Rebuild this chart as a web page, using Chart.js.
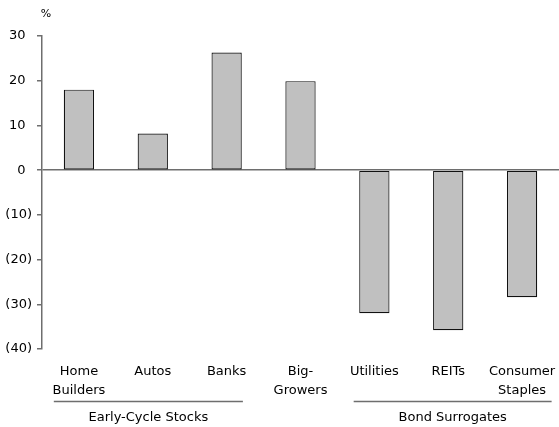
<!DOCTYPE html>
<html lang="en">
<head>
  <meta charset="UTF-8" />
  <title>Sector returns</title>
  <script src="https://cdn.jsdelivr.net/npm/chart.js"></script>
  <style>
    * { margin: 0; padding: 0; box-sizing: border-box; }
    body { background: #fff; width: 559px; height: 427px; overflow: hidden; }
    canvas { display: block; }
  </style>
</head>
<body>
  <canvas id="sectorChart" width="559" height="427"></canvas>
  <script>
    // data
    const categories = [['Home', 'Builders'], 'Autos', 'Banks', ['Big-', 'Growers'], 'Utilities', 'REITs', ['Consumer', 'Staples']];
    const returns = [18, 8.2, 26.3, 19.9, -32, -35.8, -28.4];
    const yTicks = [30, 20, 10, 0, -10, -20, -30, -40];
    const groupNames = ['Early-Cycle Stocks', 'Bond Surrogates'];
    const groupFirst = [0, 4];
    const groupLast = [2, 6];

    const FONT = "'DejaVu Sans', sans-serif";
    const AXIS = '#6e6e6e';

    // bracket lines + group names under the category labels, and the % unit
    const groupLabels = {
      id: 'groupLabels',
      afterDraw(chart) {
        const ctx = chart.ctx;
        const x = chart.scales.x;
        const cw = x.width / categories.length;
        const ends = [[-0.34, 0.22], [-0.28, 0.40]];
        ctx.save();
        groupNames.forEach((name, i) => {
          const x0 = x.getPixelForValue(groupFirst[i]) + ends[i][0] * cw;
          const x1 = x.getPixelForValue(groupLast[i]) + ends[i][1] * cw;
          ctx.strokeStyle = AXIS;
          ctx.lineWidth = 1.5;
          ctx.beginPath();
          ctx.moveTo(x0, 401.5);
          ctx.lineTo(x1, 401.5);
          ctx.stroke();
          ctx.fillStyle = '#000';
          ctx.font = '13px ' + FONT;
          ctx.textAlign = 'center';
          ctx.textBaseline = 'middle';
          ctx.fillText(name, (x0 + x1) / 2, 418);
        });
        ctx.font = '11px ' + FONT;
        ctx.textAlign = 'center';
        ctx.textBaseline = 'middle';
        ctx.fillText('%', chart.chartArea.left + 4, 14);
        ctx.restore();
      }
    };

    new Chart(document.getElementById('sectorChart').getContext('2d'), {
      type: 'bar',
      data: {
        labels: categories,
        datasets: [{
          data: returns,
          backgroundColor: '#c0c0c0',
          borderColor: '#111',
          borderWidth: 1.2,
          borderSkipped: false,
          barPercentage: 0.41,
          categoryPercentage: 1
        }]
      },
      options: {
        responsive: false,
        animation: false,
        layout: { padding: { top: 36, left: 0, right: 0, bottom: 0 } },
        plugins: { legend: { display: false }, tooltip: { enabled: false } },
        scales: {
          x: {
            grid: { display: false, drawTicks: false },
            border: { display: false },
            ticks: { color: '#000', font: { family: FONT, size: 13, lineHeight: 1.45 }, padding: 13, autoSkip: false, maxRotation: 0 },
            afterFit(scale) {
              scale.height = 78;
              scale.paddingLeft = 0;
              scale.paddingRight = 0;
            }
          },
          y: {
            min: -40,
            max: 30,
            z: 1,
            afterBuildTicks(scale) { scale.ticks = yTicks.map(v => ({ value: v })); },
            border: { display: true, color: AXIS, width: 1.5 },
            grid: {
              drawOnChartArea: true,
              color: c => (c.tick && c.tick.value === 0 ? AXIS : 'rgba(0,0,0,0)'),
              lineWidth: 1.5,
              tickLength: 5,
              tickColor: AXIS
            },
            ticks: {
              color: '#000',
              font: { family: FONT, size: 13 },
              padding: 5,
              callback: v => (v < 0 ? '(' + (-v) + ')' : v + '\u2002')
            },
            afterFit(scale) { scale.width = 42; }
          }
        }
      },
      plugins: [groupLabels]
    });
  </script>
</body>
</html>
